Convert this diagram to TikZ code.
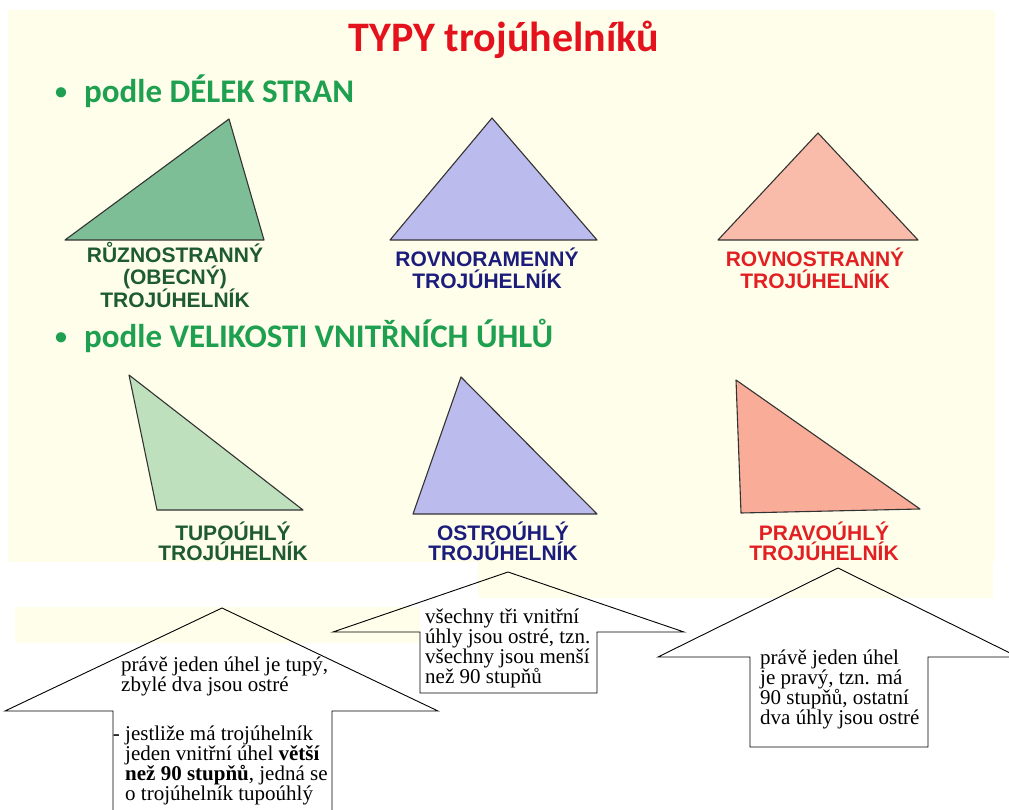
\documentclass[tikz,border=0pt]{standalone}
\usepackage{fontspec}
\newfontfamily\headfont{Carlito}
\newfontfamily\capsfont{Liberation Sans}
\newfontfamily\notefont{Liberation Serif}
\usepackage{tikz}
\usetikzlibrary{positioning}
\definecolor{paper}{RGB}{254,254,234}
\definecolor{titlered}{RGB}{228,18,28}
\definecolor{headgreen}{RGB}{30,160,80}
\definecolor{lblgreen}{RGB}{30,90,50}
\definecolor{lblblue}{RGB}{28,28,125}
\definecolor{lblred}{RGB}{226,32,36}
\definecolor{scalgreen}{RGB}{126,190,150}
\definecolor{isoblue}{RGB}{187,187,238}
\definecolor{equipink}{RGB}{250,188,170}
\definecolor{obtgreen}{RGB}{190,224,188}
\definecolor{rightpink}{RGB}{249,172,152}

\begin{document}
\begin{tikzpicture}[x=1pt, y=-1pt,
    tri/.style={draw=black!80, line width=1.1pt, line join=round},
    typelbl/.style={font=\capsfont\bfseries\fontsize{21}{#1}\selectfont, align=center, anchor=base, inner sep=0pt},
    typelbl/.default=22,
    heading/.style={font=\headfont\bfseries\fontsize{33}{36}\selectfont, text=headgreen, anchor=base west, inner sep=0pt},
    notetxt/.style={font=\notefont\fontsize{21}{20.3}\selectfont, align=left, anchor=base west, inner sep=0pt},
    callout/.style={draw=black, line width=0.9pt, line join=miter}
]
\useasboundingbox (0,0) rectangle (1009,810);
\clip (0,0) rectangle (1009,810);
\fill[white] (0,0) rectangle (1009,810);
\fill[paper] (8,10) rectangle (995,562);
\fill[paper] (478,562) rectangle (993,598);
\fill[paper] (15,607) rectangle (420,643);

\node[font=\headfont\bfseries\fontsize{42}{46}\selectfont, text=titlered, anchor=base, inner sep=0pt] (title) at (504,52) {TYPY trojúhelníků};

\node[heading, font=\headfont\bfseries\fontsize{24}{26}\selectfont, anchor=base] (bulA) at (61,100) {\textbullet};
\node[heading] (sides) at (84,103) {podle DÉLEK STRAN};
\node[heading, font=\headfont\bfseries\fontsize{24}{26}\selectfont, anchor=base] (bulB) at (61,344) {\textbullet};
\node[heading] (angles) at (84,347) {podle VELIKOSTI VNITŘNÍCH ÚHLŮ};

\draw[tri, fill=scalgreen] (65,240) -- (229,119) -- (264,240) -- cycle;
\draw[tri, fill=isoblue] (390,240) -- (492,118) -- (597,240) -- cycle;
\draw[tri, fill=equipink] (718,240) -- (818,133) -- (918,240) -- cycle;

\node[typelbl, text=lblgreen] (scalene) at (175,308) {RŮZNOSTRANNÝ\\(OBECNÝ)\\TROJÚHELNÍK};
\node[typelbl, text=lblblue] (isosceles) at (487,289) {ROVNORAMENNÝ\\TROJÚHELNÍK};
\node[typelbl, text=lblred] (equilateral) at (815,289) {ROVNOSTRANNÝ\\TROJÚHELNÍK};

\draw[tri, fill=obtgreen] (129,375) -- (157,510) -- (303,510) -- cycle;
\draw[tri, fill=isoblue] (461,377) -- (413,514) -- (597,514) -- cycle;
\draw[tri, fill=rightpink] (736,380) -- (741,513) -- (920,509) -- cycle;

\node[typelbl=20.5, text=lblgreen] (obtuse) at (233,560.5) {TUPOÚHLÝ\\TROJÚHELNÍK};
\node[typelbl=20.5, text=lblblue] (acute) at (503,560.5) {OSTROÚHLÝ\\TROJÚHELNÍK};
\node[typelbl=20.5, text=lblred] (rightang) at (824,560.5) {PRAVOÚHLÝ\\TROJÚHELNÍK};

\draw[callout] (5,711) -- (222,608) -- (438,711) -- (332,711) -- (332,830) -- (113,830) -- (113,711) -- cycle;
\draw[callout] (333,632) -- (508,572) -- (684,632) -- (597,632) -- (597,693) -- (420,693) -- (420,632) -- cycle;
\draw[callout] (658,657) -- (838,568) -- (1018,657) -- (928,657) -- (928,747) -- (750,747) -- (750,657) -- cycle;

\node[notetxt] (obtnoteA) at (121,691.3) {právě jeden úhel je tupý,\\zbylé dva jsou ostré};
\node[notetxt] (obtnoteB) at (125,800.9) {\llap{- }jestliže má trojúhelník\\jeden vnitřní úhel \textbf{větší}\\\textbf{než 90 stupňů}, jedná se\\o trojúhelník tupoúhlý};
\node[notetxt] (acutenote) at (425,683.9) {všechny tři vnitřní\\úhly jsou ostré, tzn.\\všechny jsou menší\\než 90 stupňů};
\node[notetxt] (rightnote) at (760,724.9) {právě jeden úhel\\je pravý, tzn. má\\90 stupňů, ostatní\\dva úhly jsou ostré};
\end{tikzpicture}
\end{document}
